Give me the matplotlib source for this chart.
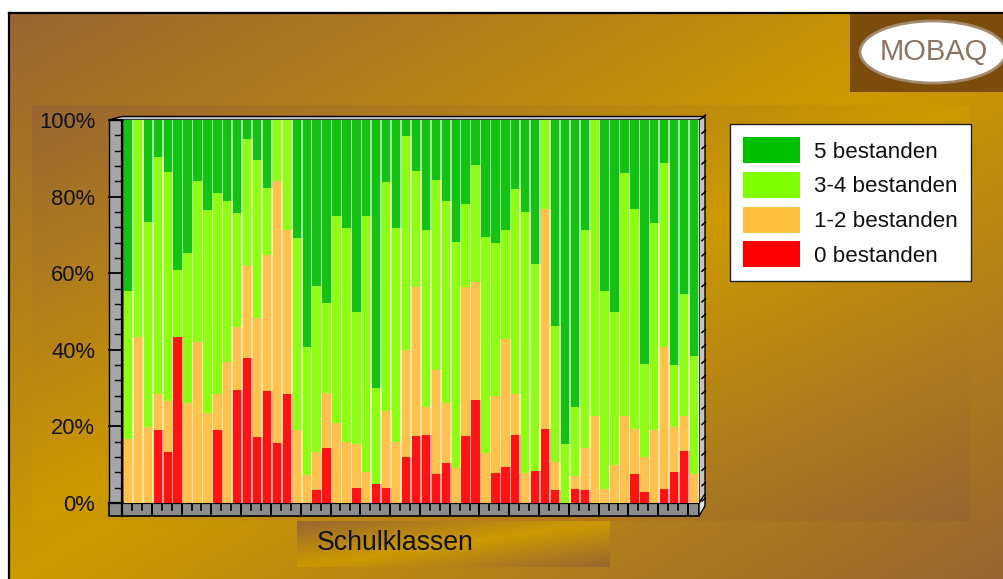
import numpy as np
import matplotlib
matplotlib.use("Agg")
import matplotlib.pyplot as plt
from matplotlib.colors import to_rgb
from matplotlib.patches import Rectangle, Ellipse, Polygon, Patch

plt.rcParams['font.family'] = ['Liberation Sans', 'DejaVu Sans']

# Percent share per school class (58 classes)
zero_passed = [0,0,0,19,13.2,43.3,0,0,0,19,0,29.4,37.8,17.2,29.2,15.6,28.4,0,0,3.3,14.3,0,0,3.8,0,4.9,3.8,0,11.9,
               17.4,17.7,7.5,10.4,0,17.4,26.8,0,7.8,9.3,17.7,0,8.3,19.3,3.3,0,3.6,3.3,0,0,0,0,7.5,3,0,3.6,8,13.5,0]
one_two_passed = [16.6,43.3,19.8,9.5,13.4,0,26,42,23.4,9.5,36.8,16.5,24.1,31.1,35.5,68.4,42.9,19,7.2,9.9,14.4,20.8,15.9,11.5,8.2,0,20.2,15.9,28,
                  39,7.3,27.2,15.6,9.1,39,30.9,13,20.1,33.5,10.7,7.8,0,57.4,7.3,0,3.4,11,22.6,3.6,9.8,22.6,11.8,8.9,19,37.1,11.8,9.1,7.6]
three_four_passed = [38.8,56.7,53.5,61.8,59.8,17.5,39.2,42,53.1,52.4,42,29.8,33.1,41.2,17.5,16,28.7,50.2,33.6,43.4,23.5,54.1,55.9,34.5,66.7,25.1,59.9,55.9,55.9,
                     30.3,46.3,49.6,52.8,59,21.6,30.5,56.4,40,28.5,53.6,68.2,54.1,23.3,35.6,15.3,18,57,77.4,51.7,40,63.6,57.4,24.3,54.1,48.1,16.2,31.9,30.7]
five_passed = [44.6,0,26.7,9.7,13.6,39.2,34.8,16,23.5,19.1,21.2,24.3,5,10.5,17.8,0,0,30.8,59.2,43.4,47.8,25.1,28.2,50.2,25.1,70,16.1,28.2,4.2,
               13.3,28.7,15.7,21.2,31.9,22,11.8,30.6,32.1,28.7,18,24,37.6,0,53.8,84.7,75,28.7,0,44.7,50.2,13.8,23.3,63.8,26.9,11.2,64,45.5,61.7]
series_labels = ['0 bestanden', '1-2 bestanden', '3-4 bestanden', '5 bestanden']
y_ticks = [0, 20, 40, 60, 80, 100]
y_tick_labels = ['0%', '20%', '40%', '60%', '80%', '100%']

W, H = 1004, 579
BROWN, GOLD = np.array(to_rgb('#996633')), np.array(to_rgb('#CC9900'))
front_cols = ['#FF1414', '#FFC24D', '#8CFF14', '#14C214']
side_cols = ['#FFA0A0', '#FFE0A8', '#DDFFA0', '#A0E8A0']
legend_cols = ['#FF0000', '#FFC040', '#80FF00', '#00C000']

fig = plt.figure(figsize=(W / 100, H / 100), dpi=100, facecolor='white')
bg = fig.add_axes([0, 0, 1, 1], zorder=0)
bg.axis('off')


def gradient(x0, x1, y0, y1, z):
    xx, yy = np.meshgrid(np.linspace(0, 1, 300), np.linspace(0, 1, 200))
    t = (xx + yy) / 2
    f = (1 - np.abs(2 * t - 1))[..., None]
    bg.imshow(BROWN + (GOLD - BROWN) * f, extent=(x0, x1, y1, y0), aspect='auto',
              zorder=z, interpolation='bilinear')


gradient(9, 1004, 13, 579, 1)
gradient(32, 970, 105, 521, 2)
gradient(297, 610, 521, 567, 3)

# Outer border
bg.plot([9, 9], [579, 13], color='black', lw=1.6, zorder=4, solid_capstyle='projecting')
bg.plot([9, 1004], [13, 13], color='black', lw=1.6, zorder=4, solid_capstyle='projecting')

# Logo
bg.add_patch(Rectangle((850, 14), 154, 78, fc='#7C4C0C', ec='none', zorder=4))
bg.add_patch(Ellipse((933, 52), 146, 62, fc='white', ec='#A58A6E', lw=2, zorder=5))
bg.text(934, 52, 'MOBAQ', fontsize=21, color='#8C7462', ha='center', va='center', zorder=6)

# 3-D frame
LEFT, RIGHT, TOP, BOT = 122, 699, 120, 503
pct = (BOT - TOP) / 100
bg.add_patch(Polygon([(109, 120), (122, 116.5), (705, 116.5), (699, 120)], fc='#C8C8C8', ec='black', lw=1, zorder=5))
bg.add_patch(Rectangle((109, TOP), LEFT - 109, BOT - TOP, fc='#A6A6A6', ec='black', lw=1, zorder=5))
bg.add_patch(Rectangle((109, BOT), RIGHT - 109, 13, fc='#8C8C8C', ec='black', lw=1.2, zorder=5))
bg.add_patch(Polygon([(699, 120), (705, 116.5), (705, 495), (699, 503)], fc='#C4C4C4', ec='black', lw=1, zorder=5))
bg.add_patch(Polygon([(699, 503), (705, 494), (705, 506), (699, 516)], fc='#E2E2E2', ec='black', lw=1, zorder=5))
for k in range(0, 101, 4):
    y = BOT - k * pct
    major = k % 20 == 0
    bg.plot([109 if major else 115, LEFT], [y, y], color='black', lw=1.3 if major else 1.0, zorder=6)
    bg.plot([702, 705.5], [y - 2, y - 5], color='black', lw=1.1, zorder=6)
bg.plot([LEFT, LEFT], [TOP, 516], color='black', lw=1.6, zorder=6)
bg.plot([109, RIGHT], [BOT, BOT], color='black', lw=1.6, zorder=6)
for k in range(0, 58):
    x = LEFT + k * 9.93
    major = k % 3 == 0
    bg.plot([x, x], [BOT, 516 if major else 510], color='black', lw=1.4 if major else 1.2, zorder=6)
bg.set_xlim(0, W)
bg.set_ylim(H, 0)

# Chart
ax = fig.add_axes([123 / W, 1 - 503 / H, 576 / W, 383 / H], zorder=1)
ax.patch.set_visible(False)
for s in ax.spines.values():
    s.set_visible(False)

series = [zero_passed, one_two_passed, three_four_passed, five_passed]
x = np.arange(len(zero_passed))
bottom = np.zeros(len(x))
for vals, fc, sc in zip(series, front_cols, side_cols):
    ax.bar(x - 0.42, vals, width=1.0, bottom=bottom, align='edge', color=sc, linewidth=0, zorder=1)
    ax.bar(x - 0.42, vals, width=0.84, bottom=bottom, align='edge', color=fc, linewidth=0, zorder=2)
    bottom = bottom + np.array(vals)

ax.set_xlim(-0.5, len(x) - 0.5)
ax.set_ylim(0, 100)
ax.set_xticks([])
ax.set_yticks(y_ticks)
ax.set_yticklabels(y_tick_labels, fontsize=15.8, color='#111111')
ax.tick_params(axis='y', length=0, pad=20)

ax.set_xlabel('Schulklassen', fontsize=19.2, color='#111111', ha='left', va='center')
ax.xaxis.set_label_coords((317 - 123) / 576, (503 - 543) / 383)

handles = [Patch(fc=c, ec='none') for c in legend_cols[::-1]]
leg = ax.legend(handles, series_labels[::-1], loc='upper left',
                bbox_to_anchor=(730 / W, 1 - 124 / H), bbox_transform=fig.transFigure,
                fontsize=16.1, frameon=True, fancybox=False, framealpha=1, edgecolor='#222222',
                borderaxespad=0, borderpad=0.6, handlelength=2.55, handleheight=1.41,
                labelspacing=0.385, handletextpad=0.62, labelcolor='#111111')
leg.get_frame().set_linewidth(1.0)
leg.set_zorder(10)

fig.savefig('out.png', dpi=100, facecolor='white')
